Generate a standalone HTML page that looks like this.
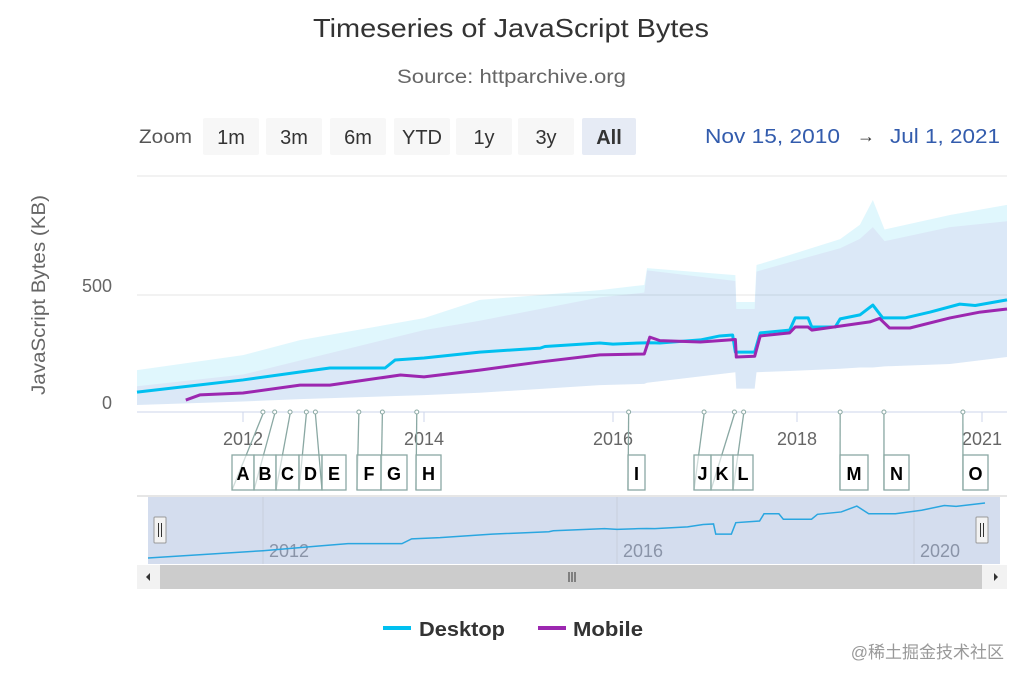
<!DOCTYPE html>
<html><head><meta charset="utf-8"><style>
body{margin:0;background:#fff;}
svg{display:block;font-family:"Liberation Sans","DejaVu Sans",sans-serif;}
</style></head><body>
<svg id="c" width="1024" height="682" viewBox="0 0 1024 682">
<text x="313" y="37" font-size="26" fill="#333" textLength="396" lengthAdjust="spacingAndGlyphs">Timeseries of JavaScript Bytes</text>
<text x="397" y="83" font-size="19" fill="#666" textLength="229" lengthAdjust="spacingAndGlyphs">Source: httparchive.org</text>
<text x="139" y="143" font-size="19" fill="#555" textLength="53" lengthAdjust="spacingAndGlyphs">Zoom</text>
<g id="btns"></g>
<text x="705" y="143" font-size="20" fill="#335cad" textLength="135" lengthAdjust="spacingAndGlyphs">Nov 15, 2010</text>
<text x="866" y="142" font-size="18" fill="#333" text-anchor="middle">→</text>
<text x="890" y="143" font-size="20" fill="#335cad" textLength="110" lengthAdjust="spacingAndGlyphs">Jul 1, 2021</text>
<text transform="translate(45,295) rotate(-90)" text-anchor="middle" font-size="19" fill="#666" textLength="200" lengthAdjust="spacingAndGlyphs">JavaScript Bytes (KB)</text>
<g id="plot"></g>
<g id="flags"></g>
<g id="nav"></g>
<g>
<line x1="383" y1="628" x2="411" y2="628" stroke="#00c0f0" stroke-width="4"/>
<text x="419" y="636" font-size="20" font-weight="bold" fill="#333" textLength="86" lengthAdjust="spacingAndGlyphs">Desktop</text>
<line x1="538" y1="628" x2="566" y2="628" stroke="#9c27b0" stroke-width="4"/>
<text x="573" y="636" font-size="20" font-weight="bold" fill="#333" textLength="70" lengthAdjust="spacingAndGlyphs">Mobile</text>
</g>
<text x="1004" y="658" text-anchor="end" font-size="17" fill="#999" font-family="'Liberation Sans','Noto Sans CJK SC',sans-serif">@稀土掘金技术社区</text>
</svg>
<script>
const dYears=[2010.87,2012,2012.63,2012.96,2013.57,2013.68,2014,2014.59,2015.23,2015.28,2015.86,2016,2016.29,2016.40,2016.51,2016.95,2017.16,2017.30,2017.33,2017.54,2017.60,2017.92,2017.98,2018.18,2018.24,2018.62,2018.70,2019.02,2019.23,2019.39,2019.75,2020.16,2020.64,2020.89,2021.5];
const desktop=[85,137,171,188,188,222,231,256,273,280,295,290,295,296,295,308,325,329,256,256,338,350,402,402,363,363,398,415,457,402,402,427,461,455,479];
const mYears=[2011.39,2011.54,2012,2012.63,2012.96,2013.74,2014,2014.59,2015.23,2015.86,2016.34,2016.40,2016.51,2016.95,2017.33,2017.34,2017.54,2017.60,2017.92,2017.98,2018.18,2018.24,2019.18,2019.34,2019.50,2019.83,2020.48,2020.97,2021.5];
const mobile=[51,73,81,115,115,158,150,179,214,244,248,320,305,299,310,235,238,325,338,363,363,350,385,400,359,359,402,427,440];
const bandYears=[2010.87,2012,2012.63,2014,2014.59,2015.86,2016.34,2016.37,2017.33,2017.34,2017.54,2017.56,2017.92,2018.70,2019.02,2019.23,2019.42,2020.48,2021.5];
const desktopHigh=[179,243,307,401,479,521,543,615,585,470,470,628,671,739,800,906,780,842,885];
const mobileHigh=[110,160,220,350,390,490,510,605,560,440,440,600,640,700,740,790,730,790,815];
const bandLow=[30,45,55,72,82,115,120,125,170,100,100,170,175,185,190,190,195,205,235];
const flagLabels=["A","B","C","D","E","F","G","H","I","J","K","L","M","N","O"];
const flagYears=[2012.22,2012.35,2012.52,2012.70,2012.80,2013.28,2013.54,2013.92,2016.17,2016.99,2017.32,2017.42,2018.70,2019.41,2020.69];
const xTickLabels=["2012","2014","2016","2018","2021"];
const xTickYears=[2012,2014,2016,2018,2021];
const navTickLabels=["2012","2016","2020"];
const navTickYears=[2012,2016,2020];
const yTicks=[0,500];

const NS="http://www.w3.org/2000/svg";
function el(t,a,p){const e=document.createElementNS(NS,t);for(const k in a)e.setAttribute(k,a[k]);p.appendChild(e);return e;}
function pw(ax,ay){return v=>{if(v<=ax[0])return ay[0];for(let i=1;i<ax.length;i++){if(v<=ax[i])return ay[i-1]+(v-ax[i-1])/(ax[i]-ax[i-1])*(ay[i]-ay[i-1]);}const n=ax.length;return ay[n-1]+(v-ax[n-1])/(ax[n-1]-ax[n-2])*(ay[n-1]-ay[n-2]);};}
const X=pw([2010.87,2012,2014,2016,2018,2021,2021.5],[137,243,424,613,797,982,1007]);
const Y=v=>412-v*0.234;
const NX=pw([2010.87,2012,2016,2020,2021.5],[148,263,617,914,985]);
const NY=v=>558-(v-85)/(479-85)*55;
const bl=["1m","3m","6m","YTD","1y","3y","All"],bx=[203,266,330,394,456,518,582],bw=[56,56,56,56,56,56,54];
const bg=document.getElementById('btns');
bl.forEach((l,i)=>{const r=el('rect',{x:bx[i],y:118,width:bw[i],height:37,rx:2,fill:i==6?'#e6ebf5':'#f7f7f7'},bg);


const t=el('text',{x:bx[i]+bw[i]/2,y:144,'text-anchor':'middle','font-size':20,fill:'#333','font-weight':i==6?'bold':'normal'},bg);t.textContent=l;

});
const P=document.getElementById('plot');
[176,295].forEach((y,i)=>{const g=el('line',{x1:137,x2:1007,y1:y,y2:y,stroke:'#e6e6e6'},P);

});
yTicks.forEach(v=>{const t=el('text',{x:112,y:Y(v)-3,'text-anchor':'end','font-size':18,fill:'#666'},P);t.textContent=v;

});
function area(xs,hi,lo,fill,name){let d='';xs.forEach((x,i)=>{d+=(i?'L':'M')+X(x)+','+Y(hi[i]);});for(let i=xs.length-1;i>=0;i--)d+='L'+X(xs[i])+','+Y(lo[i]);
const a=el('path',{d:d+'Z',fill:fill},P);

}
area(bandYears,desktopHigh,bandLow,'rgba(0,192,240,0.12)','desktop-range-band');
area(bandYears,mobileHigh,bandLow,'rgba(156,39,176,0.07)','mobile-range-band');
function line(xs,vs,c,name){const d=xs.map((x,i)=>(i?'L':'M')+X(x)+','+Y(vs[i])).join('');
const l=el('path',{d:d,fill:'none',stroke:c,'stroke-width':3,'stroke-linejoin':'round'},P);

}
line(dYears,desktop,'#00c0f0','desktop-line');
line(mYears,mobile,'#9c27b0','mobile-line');
const ax=el('line',{x1:137,x2:1007,y1:412,y2:412,stroke:'#ccd6eb'},P);


xTickLabels.forEach((l,i)=>{const x=X(xTickYears[i]);el('line',{x1:x,x2:x,y1:412,y2:422,stroke:'#ccd6eb'},P);
const t=el('text',{x:x,y:445,'text-anchor':'middle','font-size':18,fill:'#666'},P);t.textContent=l;

});
const F=document.getElementById('flags');
const boxLeft=[232,254,276,299,322,357,381,416,628,694,711,733,840,884,963];
const boxW=[22,22,23,23,24,24,26,25,17,17,22,20,28,25,25];
flagLabels.forEach((l,i)=>{const px=X(flagYears[i]);const left=boxLeft[i],w=boxW[i];
el('line',{x1:px,y1:414,x2:left,y2:490,stroke:'#8aa8a3','stroke-width':1.3},F);
el('circle',{cx:px,cy:412,r:2,fill:'#fff',stroke:'#8aa8a3'},F);
const r=el('rect',{x:left,y:455,width:w,height:35,fill:'#fff','fill-opacity':0.6,stroke:'#8aa8a3','stroke-width':1.3},F);


const t=el('text',{x:left+w/2,y:480,'text-anchor':'middle','font-size':18,'font-weight':'bold',fill:'#000'},F);t.textContent=l;

});
const N=document.getElementById('nav');
el('line',{x1:137,x2:1007,y1:496,y2:496,stroke:'#ccc'},N);
const sh=el('rect',{x:148,y:497,width:852,height:67,fill:'rgba(102,133,194,0.28)'},N);


navTickLabels.forEach((l,i)=>{const x=NX(navTickYears[i]);el('line',{x1:x,x2:x,y1:497,y2:564,stroke:'#c8cfdc'},N);
const t=el('text',{x:x+6,y:557,'font-size':18,fill:'#8a94a8'},N);t.textContent=l;

});
const nd=dYears.map((x,i)=>(i?'L':'M')+NX(x)+','+NY(desktop[i])).join('');
const nl=el('path',{d:nd,fill:'none',stroke:'#2aa6e0','stroke-width':1.5},N);


[160,982].forEach((x,i)=>{const h=el('rect',{x:x-6,y:517,width:12,height:26,rx:1,fill:'#f2f2f2',stroke:'#999'},N);


el('line',{x1:x-1.5,x2:x-1.5,y1:523,y2:537,stroke:'#333'},N);el('line',{x1:x+1.5,x2:x+1.5,y1:523,y2:537,stroke:'#333'},N);});
const sb=el('rect',{x:137,y:565,width:870,height:24,fill:'#f2f2f2'},N);


const th=el('rect',{x:160,y:565,width:822,height:24,fill:'#cccccc'},N);


[569,572,575].forEach(x=>el('line',{x1:x,x2:x,y1:572,y2:582,stroke:'#333'},N));
el('path',{d:'M150,573 L146,577 L150,581Z',fill:'#333'},N);
el('path',{d:'M994,573 L998,577 L994,581Z',fill:'#333'},N);
</script>
</body></html>
